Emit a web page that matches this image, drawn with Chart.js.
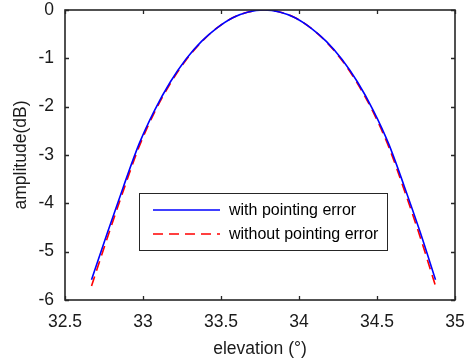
<!DOCTYPE html>
<html>
<head>
<meta charset="utf-8">
<script src="https://cdn.jsdelivr.net/npm/chart.js@4/dist/chart.umd.min.js"></script>
<style>
html,body{margin:0;padding:0;background:#fff;}
#c{display:block;}
</style>
</head>
<body>
<canvas id="c" width="467" height="362"></canvas>
<script>
// elevation (deg)
const elevation = [32.67, 32.775, 32.875, 32.975, 33.075, 33.175, 33.275, 33.375, 33.475, 33.575, 33.675, 33.775,
  33.875, 33.975, 34.075, 34.175, 34.275, 34.375, 34.475, 34.575, 34.675, 34.775, 34.875];
// amplitude (dB) with pointing error
const withError = [-5.58, -4.58, -3.65, -2.77, -2.07, -1.49, -1.02, -0.65, -0.37, -0.16, -0.04, 0,
  -0.04, -0.16, -0.37, -0.65, -1.02, -1.49, -2.07, -2.77, -3.65, -4.58, -5.58];
// amplitude (dB) without pointing error
const withoutError = [-5.71, -4.68, -3.73, -2.83, -2.11, -1.52, -1.04, -0.66, -0.37, -0.16, -0.04, 0,
  -0.04, -0.16, -0.37, -0.66, -1.04, -1.52, -2.11, -2.83, -3.73, -4.68, -5.71];
const seriesLabels = ['with pointing error', 'without pointing error'];
const xTicks = [32.5, 33, 33.5, 34, 34.5, 35];
const yTicks = [-6, -5, -4, -3, -2, -1, 0];

const FONT = '"Liberation Sans", Arial, Helvetica, sans-serif';
const INK = '#262626';
const AXF = 17.5;

const toPts = (ys) => elevation.map((x, i) => ({x: x, y: ys[i]}));

const boxPlugin = {
  id: 'boxPlugin',
  afterDatasetsDraw(chart) {
    const {ctx, chartArea: a, scales} = chart;
    ctx.save();
    ctx.strokeStyle = INK;
    ctx.lineWidth = 1.6;
    ctx.strokeRect(a.left, a.top, a.right - a.left, a.bottom - a.top);
    ctx.lineWidth = 1.3;
    ctx.beginPath();
    const tl = 4;
    xTicks.forEach(v => {
      const px = Math.round(scales.x.getPixelForValue(v)) + 0.5;
      ctx.moveTo(px, a.bottom); ctx.lineTo(px, a.bottom - tl);
      ctx.moveTo(px, a.top); ctx.lineTo(px, a.top + tl);
    });
    yTicks.forEach(v => {
      const py = Math.round(scales.y.getPixelForValue(v)) + 0.5;
      ctx.moveTo(a.left, py); ctx.lineTo(a.left + tl, py);
      ctx.moveTo(a.right, py); ctx.lineTo(a.right - tl, py);
    });
    ctx.stroke();

    // legend
    const lx = 139.5, ly = 193.5, lw = 248, lh = 57;
    ctx.fillStyle = '#fff';
    ctx.fillRect(lx, ly, lw, lh);
    ctx.strokeStyle = INK;
    ctx.lineWidth = 1;
    ctx.strokeRect(lx, ly, lw, lh);
    const rows = [210, 234];
    chart.data.datasets.forEach((ds, i) => {
      ctx.beginPath();
      ctx.strokeStyle = ds.borderColor;
      ctx.lineWidth = ds.borderWidth;
      ctx.setLineDash(ds.borderDash || []);
      ctx.moveTo(153, rows[i]); ctx.lineTo(220, rows[i]);
      ctx.stroke();
      ctx.setLineDash([]);
      ctx.fillStyle = '#000';
      ctx.font = '16px ' + FONT;
      ctx.textBaseline = 'middle';
      ctx.textAlign = 'left';
      ctx.fillText(ds.label, 229, rows[i] + 1);
    });
    ctx.restore();
  }
};

new Chart(document.getElementById('c'), {
  type: 'line',
  data: {
    datasets: [
      {label: seriesLabels[0], data: toPts(withError), borderColor: '#0000FF', borderWidth: 1.6,
       pointRadius: 0, fill: false, cubicInterpolationMode: 'monotone'},
      {label: seriesLabels[1], data: toPts(withoutError), borderColor: '#FF0000', borderWidth: 1.6,
       borderDash: [10, 6], pointRadius: 0, fill: false, cubicInterpolationMode: 'monotone'}
    ]
  },
  options: {
    responsive: false,
    animation: false,
    devicePixelRatio: 1,
    layout: {padding: {top: 10, right: 12, left: 0, bottom: 0}},
    plugins: {legend: {display: false}, tooltip: {enabled: false}},
    scales: {
      x: {
        type: 'linear', min: 32.5, max: 35,
        afterBuildTicks: s => { s.ticks = xTicks.map(v => ({value: v})); },
        afterFit: s => { s.height = 62; s.paddingLeft = 0; s.paddingRight = 0; },
        grid: {display: false, drawTicks: false},
        border: {display: false},
        ticks: {color: '#1a1a1a', font: {family: FONT, size: AXF}, padding: 12, maxRotation: 0,
                callback: v => String(v)},
        title: {display: true, text: 'elevation (°)', color: '#1a1a1a',
                font: {family: FONT, size: AXF}, padding: {top: 0, bottom: 2.5}}
      },
      y: {
        type: 'linear', min: -6, max: 0,
        afterBuildTicks: s => { s.ticks = yTicks.map(v => ({value: v})); },
        afterFit: s => { s.width = 65; s.paddingTop = 0; s.paddingBottom = 0; },
        grid: {display: false, drawTicks: false},
        border: {display: false},
        ticks: {color: '#1a1a1a', font: {family: FONT, size: AXF}, padding: 11,
                callback: v => String(v)},
        title: {display: true, text: 'amplitude(dB)', color: '#1a1a1a',
                font: {family: FONT, size: AXF}, padding: {top: 10.5, bottom: 0}}
      }
    }
  },
  plugins: [boxPlugin]
});
</script>
</body>
</html>
